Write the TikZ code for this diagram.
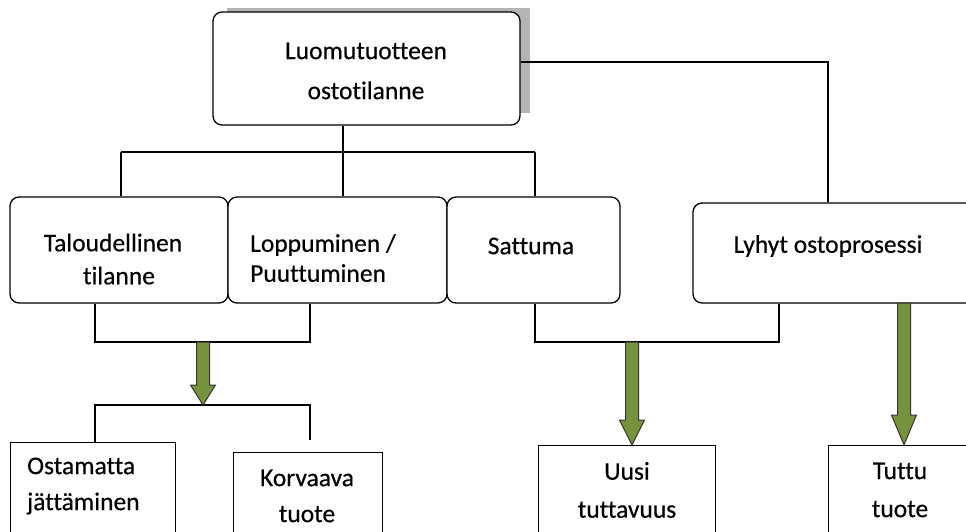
\documentclass[tikz,border=0pt]{standalone}
\usepackage{fontspec}
\setmainfont[Ligatures=NoCommon,FakeBold=0.4]{Carlito}
\usetikzlibrary{calc}
\definecolor{arrowgreen}{HTML}{76923C}
\definecolor{shadowgray}{HTML}{B4B4B4}
\tikzset{
  rbox/.style={draw=black, line width=1.3pt, rounded corners=9pt, fill=white, inner sep=0pt},
  sbox/.style={draw=black, line width=1.3pt, fill=white, inner sep=0pt},
  conn/.style={draw=black, line width=1.3pt},
  txt/.style={inner sep=0pt, font=\fontsize{25.5}{33}\selectfont},
}
\newcommand\greenarrow[3]{%
  \path let \p1=(#1), \p2=(#2) in
    [draw=black!80, fill=arrowgreen, line width=1pt, line join=miter]
    (\x1-6.5pt,\y1) -- (\x1-6.5pt,\y2+#3) -- (\x1-12.5pt,\y2+#3) -- (\x1,\y2)
    -- (\x1+12.5pt,\y2+#3) -- (\x1+6.5pt,\y2+#3) -- (\x1+6.5pt,\y1) -- cycle;}
\begin{document}
\begin{tikzpicture}[x=1pt,y=-1pt]
\useasboundingbox (0,0) rectangle (966,531);
% shadow of top box
\fill[shadowgray] (227,8) rectangle (530,113);
% boxes
\node[rbox, minimum width=307pt, minimum height=113pt] (top) at (366.5,68.5) {};
\node[txt, align=center, font=\fontsize{25.5}{40}\selectfont] (toptxt) at (366,71) {Luomutuotteen\\ostotilanne};

\node[rbox, minimum width=218pt, minimum height=106pt] (tal) at (119,250) {};
\node[rbox, minimum width=219pt, minimum height=106pt] (lop) at (337.5,250) {};
\node[rbox, minimum width=173pt, minimum height=106pt] (sat) at (533.5,250) {};
\node[rbox, minimum width=300pt, minimum height=100pt] (lyh) at (843,253) {};

\node[txt, align=center] (taltxt) at (113,259) {Taloudellinen\\ \hspace{12pt}tilanne};
\node[txt, align=left, anchor=west, font=\fontsize{25.5}{30}\selectfont] (loptxt) at (250,258) {Loppuminen /\\Puuttuminen};
\node[txt] (sattxt) at (531,246) {Sattuma};
\node[txt] (lyhtxt) at (828,246) {Lyhyt ostoprosessi};

\node[sbox, minimum width=165pt, minimum height=110pt, anchor=north west] (ost) at (10,442) {};
\node[sbox, minimum width=149pt, minimum height=100pt, anchor=north west] (kor) at (233,452) {};
\node[sbox, minimum width=177pt, minimum height=100pt, anchor=north west] (uusi) at (538,445) {};
\node[sbox, minimum width=170pt, minimum height=100pt, anchor=north west] (tut) at (828,445) {};

\node[txt, align=left, anchor=west, font=\fontsize{25.5}{36}\selectfont] (osttxt) at (27,486) {Ostamatta\\jättäminen};
\node[txt, align=center, font=\fontsize{25.5}{36}\selectfont] (kortxt) at (307,496) {Korvaava\\tuote};
\node[txt, align=center, font=\fontsize{25.5}{38}\selectfont] (uusitxt) at (627,490) {Uusi\\tuttavuus};
\node[txt, align=center, font=\fontsize{25.5}{38}\selectfont] (tuttxt) at (900,490) {Tuttu\\tuote};

% connectors from top box
\coordinate (hbar) at (343,152);
\draw[conn] (top.south -| hbar) -- (hbar);
\draw[conn] (121,152 |- hbar) -- (535,152 |- hbar);
\draw[conn] (hbar -| 121,0) -- (tal.north -| 121,0);
\draw[conn] (hbar) -- (lop.north -| hbar);
\draw[conn] (hbar -| 535,0) -- (sat.north -| 535,0);
\coordinate (rc) at (828,62);
\draw[conn] (top.east |- rc) -- (rc) -- (lyh.north -| rc);

% lower left bracket
\coordinate (b1l) at (95,342);
\coordinate (b1r) at (310,342);
\draw[conn] (tal.south -| b1l) -- (b1l) -- (b1r) -- (lop.south -| b1r);
\coordinate (a1s) at (203,342);
\coordinate (a1e) at (203,405);
\coordinate (c1l) at (95,405);
\coordinate (c1r) at (310,405);
\coordinate (c1end) at (310,440);
\draw[conn] (ost.north -| c1l) -- (c1l) -- (c1r) -- (c1end);
\greenarrow{a1s}{a1e}{20pt}

% lower middle bracket
\coordinate (b2l) at (535,342);
\coordinate (b2r) at (779,342);
\draw[conn] (sat.south -| b2l) -- (b2l) -- (b2r) -- (lyh.south -| b2r);
\coordinate (a2s) at (632,342);
\greenarrow{a2s}{uusi.north -| a2s}{25pt}

% right arrow
\coordinate (a3s) at (904,303);
\greenarrow{a3s}{tut.north -| a3s}{30pt}
\end{tikzpicture}
\end{document}
